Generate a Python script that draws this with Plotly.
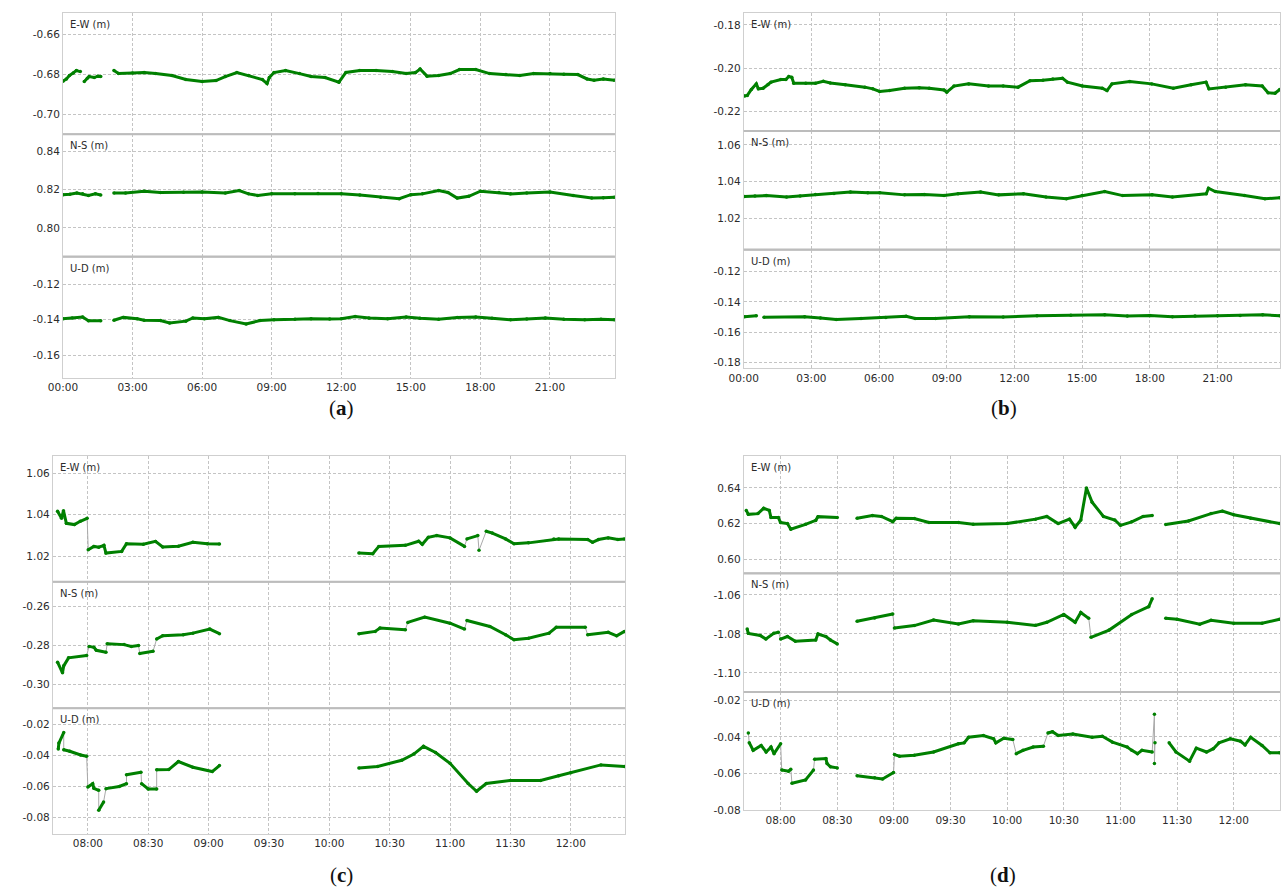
import plotly.graph_objects as go

G = None   # data gap: nothing drawn
J = "|"    # jump: thin grey connector only

# ---------------- tick labels ----------------
X_TICKS_DAY = [0, 3, 6, 9, 12, 15, 18, 21]
X_TICKS_DAY_TEXT = ["00:00", "03:00", "06:00", "09:00", "12:00", "15:00", "18:00", "21:00"]
X_TICKS_MORNING = [8.0, 8.5, 9.0, 9.5, 10.0, 10.5, 11.0, 11.5, 12.0]
X_TICKS_MORNING_TEXT = ["08:00", "08:30", "09:00", "09:30", "10:00", "10:30", "11:00", "11:30", "12:00"]

A_EW_TICKS = [-0.70, -0.68, -0.66]
A_NS_TICKS = [0.80, 0.82, 0.84]
A_UD_TICKS = [-0.16, -0.14, -0.12]
B_EW_TICKS = [-0.22, -0.20, -0.18]
B_NS_TICKS = [1.02, 1.04, 1.06]
B_UD_TICKS = [-0.18, -0.16, -0.14, -0.12]
C_EW_TICKS = [1.02, 1.04, 1.06]
C_NS_TICKS = [-0.30, -0.28, -0.26]
C_UD_TICKS = [-0.08, -0.06, -0.04, -0.02]
D_EW_TICKS = [0.60, 0.62, 0.64]
D_NS_TICKS = [-1.10, -1.08, -1.06]
D_UD_TICKS = [-0.08, -0.06, -0.04, -0.02]

COMPONENTS = ["E-W (m)", "N-S (m)", "U-D (m)"]
CAPTIONS = ["a", "b", "c", "d"]

# ---------------- series: (time in hours, metres) ----------------
A_EW = [(0.00, -0.6834), (0.15, -0.6822), (0.28, -0.6805), (0.45, -0.6792), (0.58, -0.6780), (0.75, -0.6785), G,
        (0.92, -0.6835), (1.05, -0.6818), (1.13, -0.6810), (1.35, -0.6815), (1.50, -0.6808), (1.63, -0.6810), G,
        (2.20, -0.6780), (2.40, -0.6795), (3.00, -0.6792), (3.50, -0.6790), (4.00, -0.6795), (4.70, -0.6805),
        (5.30, -0.6825), (6.00, -0.6835), (6.60, -0.6830), (7.00, -0.6810), (7.50, -0.6790), (8.00, -0.6805),
        (8.60, -0.6825), (8.80, -0.6845), (8.90, -0.6815), (9.10, -0.6790), (9.60, -0.6780), (10.20, -0.6795),
        (10.70, -0.6810), (11.30, -0.6815), (11.90, -0.6838), (12.20, -0.6789), (12.80, -0.6780), (13.50, -0.6780),
        (14.20, -0.6785), (14.80, -0.6795), (15.20, -0.6790), (15.40, -0.6772), (15.70, -0.6808), (16.20, -0.6805),
        (16.70, -0.6795), (17.10, -0.6775), (17.80, -0.6775), (18.40, -0.6795), (19.10, -0.6800), (19.70, -0.6805),
        (20.30, -0.6795), (21.00, -0.6795), (21.60, -0.6798), (22.20, -0.6800), (22.60, -0.6822), (22.90, -0.6828),
        (23.30, -0.6822), (23.78, -0.6828)]
A_NS = [(0.00, 0.8174), (0.30, 0.8176), (0.60, 0.8183), (0.85, 0.8178), (1.10, 0.8170), (1.40, 0.8178), (1.63, 0.8172), G,
        (2.20, 0.8183), (2.70, 0.8182), (3.50, 0.8192), (4.20, 0.8185), (5.20, 0.8186), (6.00, 0.8188), (7.00, 0.8183),
        (7.60, 0.8195), (8.00, 0.8178), (8.40, 0.8170), (9.00, 0.8178), (10.00, 0.8179), (11.00, 0.8180), (12.00, 0.8179),
        (12.80, 0.8172), (13.70, 0.8160), (14.50, 0.8153), (15.00, 0.8174), (15.50, 0.8178), (16.20, 0.8195), (16.60, 0.8185),
        (17.00, 0.8156), (17.50, 0.8165), (18.00, 0.8192), (18.80, 0.8185), (19.30, 0.8178), (20.00, 0.8182), (21.00, 0.8188),
        (22.00, 0.8170), (22.80, 0.8156), (23.30, 0.8158), (23.78, 0.8160)]
A_UD = [(0.00, -0.1394), (0.40, -0.1390), (0.85, -0.1385), (1.10, -0.1406), (1.63, -0.1406), G,
        (2.20, -0.1403), (2.60, -0.1387), (3.20, -0.1395), (3.50, -0.1403), (4.20, -0.1405), (4.60, -0.1418),
        (5.30, -0.1408), (5.60, -0.1390), (6.10, -0.1395), (6.70, -0.1387), (7.20, -0.1405), (7.90, -0.1424),
        (8.50, -0.1405), (9.10, -0.1400), (10.00, -0.1398), (10.70, -0.1394), (11.50, -0.1396), (12.00, -0.1394),
        (12.60, -0.1382), (13.20, -0.1390), (14.00, -0.1395), (14.80, -0.1385), (15.40, -0.1392), (16.20, -0.1398),
        (17.00, -0.1388), (17.80, -0.1385), (18.50, -0.1392), (19.30, -0.1400), (20.00, -0.1396), (20.80, -0.1390),
        (21.60, -0.1397), (22.50, -0.1400), (23.20, -0.1398), (23.78, -0.1400)]

B_EW = [(0.03, -0.2128), (0.16, -0.2125), (0.34, -0.2098), (0.56, -0.2072), (0.65, -0.2095), (0.86, -0.2092),
        (1.08, -0.2075), (1.21, -0.2064), (1.65, -0.2052), (1.87, -0.2052), (2.00, -0.2038), (2.13, -0.2042),
        (2.22, -0.2069), (2.75, -0.2069), (3.18, -0.2069), (3.53, -0.2060), (3.84, -0.2068), (4.50, -0.2076),
        (5.37, -0.2087), (5.72, -0.2095), (6.03, -0.2107), (6.47, -0.2102), (7.13, -0.2092), (7.78, -0.2090),
        (8.22, -0.2092), (8.88, -0.2100), (9.00, -0.2110), (9.32, -0.2082), (9.97, -0.2072), (10.85, -0.2082),
        (11.50, -0.2082), (12.16, -0.2087), (12.69, -0.2057), (13.26, -0.2055), (13.70, -0.2049), (14.13, -0.2046),
        (14.35, -0.2064), (15.01, -0.2082), (15.89, -0.2092), (16.10, -0.2103), (16.32, -0.2072), (17.11, -0.2061),
        (18.08, -0.2072), (19.04, -0.2092), (19.83, -0.2076), (20.49, -0.2064), (20.62, -0.2095), (21.36, -0.2087),
        (22.24, -0.2076), (22.98, -0.2082), (23.24, -0.2113), (23.55, -0.2115), (23.76, -0.2098)]
B_NS = [(0.03, 1.0319), (0.50, 1.0322), (1.00, 1.0324), (1.90, 1.0316), (2.50, 1.0322), (3.18, 1.0330), (4.00, 1.0335),
        (4.73, 1.0343), (5.50, 1.0340), (6.03, 1.0340), (7.13, 1.0328), (8.00, 1.0330), (8.88, 1.0324), (9.50, 1.0334),
        (10.50, 1.0343), (11.30, 1.0328), (12.40, 1.0334), (13.40, 1.0316), (14.30, 1.0307), (15.00, 1.0324),
        (16.00, 1.0346), (16.80, 1.0324), (18.10, 1.0328), (19.00, 1.0316), (20.50, 1.0334), (20.60, 1.0364),
        (20.90, 1.0346), (22.20, 1.0324), (23.10, 1.0307), (23.76, 1.0312)]
B_UD = [(0.03, -0.1499), (0.56, -0.1492), G,
        (0.90, -0.1502), (2.70, -0.1499), (3.40, -0.1506), (4.10, -0.1517), (5.20, -0.1510), (6.30, -0.1504),
        (7.20, -0.1495), (7.60, -0.1510), (8.50, -0.1510), (10.00, -0.1499), (11.50, -0.1500), (13.00, -0.1492),
        (14.50, -0.1488), (16.00, -0.1486), (17.00, -0.1494), (18.00, -0.1490), (19.00, -0.1498), (20.00, -0.1494),
        (21.00, -0.1492), (22.00, -0.1490), (23.00, -0.1486), (23.76, -0.1492)]

C_EW = [(7.749, 1.0416), (7.782, 1.0382), (7.798, 1.0419), (7.822, 1.0358), (7.888, 1.0352), (7.937, 1.0368), (7.994, 1.0382), J,
        (8.003, 1.0231), (8.050, 1.0247), (8.090, 1.0243), (8.133, 1.0252), (8.150, 1.0215), (8.280, 1.0223), (8.320, 1.0260),
        (8.460, 1.0257), (8.560, 1.0271), (8.620, 1.0244), (8.750, 1.0248), (8.870, 1.0267), (8.990, 1.0260), (9.090, 1.0259), G,
        (10.245, 1.0215), (10.360, 1.0212), (10.410, 1.0247), (10.630, 1.0252), (10.740, 1.0272), (10.770, 1.0257),
        (10.820, 1.0291), (10.890, 1.0299), (11.000, 1.0288), (11.120, 1.0247), J,
        (11.140, 1.0283), (11.230, 1.0299), J, (11.240, 1.0228), J,
        (11.300, 1.0320), (11.350, 1.0311), (11.460, 1.0283), (11.530, 1.0260), (11.650, 1.0264), (11.860, 1.0283),
        (11.900, 1.0283), (12.140, 1.0280), (12.180, 1.0267), (12.230, 1.0280), (12.310, 1.0288), (12.390, 1.0280),
        (12.445, 1.0283)]
C_NS = [(7.749, -0.2885), (7.790, -0.2940), (7.800, -0.2904), (7.840, -0.2863), (7.990, -0.2851), J,
        (8.010, -0.2804), (8.050, -0.2809), (8.070, -0.2824), (8.150, -0.2834), J,
        (8.160, -0.2790), (8.300, -0.2795), (8.360, -0.2804), (8.420, -0.2800), J,
        (8.430, -0.2841), (8.540, -0.2829), J,
        (8.570, -0.2766), (8.620, -0.2749), (8.790, -0.2744), (8.870, -0.2736), (9.010, -0.2715), (9.090, -0.2739), G,
        (10.245, -0.2739), (10.380, -0.2727), (10.420, -0.2710), (10.630, -0.2718), J,
        (10.650, -0.2681), (10.790, -0.2654), (11.000, -0.2685), (11.120, -0.2715), J,
        (11.140, -0.2671), (11.330, -0.2702), (11.460, -0.2744), (11.530, -0.2770), (11.650, -0.2762), (11.820, -0.2736),
        (11.880, -0.2706), (12.120, -0.2706), J,
        (12.140, -0.2744), (12.310, -0.2732), (12.380, -0.2750), (12.445, -0.2727)]
C_UD = [(7.755, -0.0357), (7.760, -0.0319), (7.800, -0.0251), J,
        (7.800, -0.0362), (7.850, -0.0372), (7.940, -0.0396), (7.990, -0.0404), J,
        (8.000, -0.0603), (8.040, -0.0581), (8.050, -0.0611), (8.090, -0.0624), J,
        (8.090, -0.0753), (8.130, -0.0699), J,
        (8.150, -0.0613), (8.260, -0.0599), (8.320, -0.0581), J,
        (8.320, -0.0524), (8.440, -0.0507), J,
        (8.445, -0.0581), (8.500, -0.0615), (8.570, -0.0615), J,
        (8.570, -0.0492), (8.670, -0.0490), (8.750, -0.0438), (8.870, -0.0475), (9.030, -0.0503), (9.090, -0.0464), G,
        (10.245, -0.0480), (10.400, -0.0470), (10.600, -0.0430), (10.700, -0.0390), (10.780, -0.0340), (10.880, -0.0380),
        (11.000, -0.0450), (11.150, -0.0580), (11.220, -0.0630), (11.300, -0.0580), (11.500, -0.0560), (11.750, -0.0560),
        (11.900, -0.0530), (12.000, -0.0510), (12.250, -0.0460), (12.445, -0.0470)]

D_EW = [(7.697, 0.6274), (7.715, 0.6252), (7.800, 0.6256), (7.850, 0.6286), (7.900, 0.6274), (7.915, 0.6234), (7.980, 0.6234),
        (8.000, 0.6206), (8.060, 0.6200), (8.090, 0.6168), (8.220, 0.6196), (8.310, 0.6218), (8.330, 0.6239), (8.500, 0.6234), G,
        (8.675, 0.6230), (8.810, 0.6246), (8.890, 0.6240), (8.990, 0.6211), (9.020, 0.6230), (9.180, 0.6228), (9.310, 0.6206),
        (9.570, 0.6206), (9.700, 0.6196), (10.000, 0.6200), (10.250, 0.6225), (10.350, 0.6240), (10.450, 0.6200),
        (10.550, 0.6225), (10.600, 0.6180), (10.650, 0.6220), (10.700, 0.6400), (10.750, 0.6320), (10.850, 0.6240),
        (10.950, 0.6220), (11.000, 0.6190), (11.100, 0.6210), (11.200, 0.6240), (11.280, 0.6245), G,
        (11.400, 0.6195), (11.600, 0.6215), (11.800, 0.6256), (11.900, 0.6270), (12.000, 0.6250), (12.150, 0.6230),
        (12.405, 0.6200)]
D_NS = [(7.705, -1.0775), (7.715, -1.0797), (7.820, -1.0808), (7.870, -1.0826), (7.940, -1.0797), (7.980, -1.0791), J,
        (8.000, -1.0826), (8.060, -1.0813), (8.130, -1.0837), (8.310, -1.0831), (8.330, -1.0800), (8.400, -1.0813),
        (8.440, -1.0831), (8.500, -1.0851), G,
        (8.675, -1.0735), (8.830, -1.0718), (8.990, -1.0698), J,
        (9.005, -1.0769), (9.180, -1.0757), (9.350, -1.0729), (9.570, -1.0749), (9.700, -1.0732), (10.000, -1.0740),
        (10.250, -1.0756), (10.350, -1.0740), (10.500, -1.0700), (10.600, -1.0740), (10.650, -1.0690), (10.720, -1.0720), J,
        (10.740, -1.0817), (10.900, -1.0780), (11.100, -1.0700), (11.250, -1.0660), (11.280, -1.0620), G,
        (11.400, -1.0720), (11.500, -1.0725), (11.700, -1.0750), (11.800, -1.0730), (12.000, -1.0745), (12.250, -1.0745),
        (12.405, -1.0725)]
D_UD = [(7.715, -0.0379), J,
        (7.723, -0.0432), (7.758, -0.0474), (7.828, -0.0447), (7.872, -0.0483), (7.915, -0.0456), (7.942, -0.0492), (8.000, -0.0438), J,
        (8.010, -0.0582), (8.070, -0.0588), (8.090, -0.0578), J,
        (8.100, -0.0654), (8.220, -0.0636), (8.290, -0.0582), J,
        (8.300, -0.0523), (8.400, -0.0519), (8.410, -0.0546), (8.440, -0.0564), (8.500, -0.0570), G,
        (8.675, -0.0613), (8.830, -0.0624), (8.900, -0.0631), (8.997, -0.0595), J,
        (9.005, -0.0497), (9.050, -0.0506), (9.180, -0.0501), (9.350, -0.0483), (9.570, -0.0438), (9.620, -0.0433),
        (9.660, -0.0402), (9.790, -0.0393), (9.880, -0.0411), (9.900, -0.0433), (9.970, -0.0408), (10.050, -0.0415), J,
        (10.080, -0.0492), (10.140, -0.0474), (10.230, -0.0456), (10.320, -0.0451), J,
        (10.360, -0.0379), (10.400, -0.0372), (10.450, -0.0393), (10.580, -0.0384), (10.750, -0.0402), (10.840, -0.0397),
        (10.930, -0.0429), (11.060, -0.0456), (11.100, -0.0474), (11.150, -0.0492), (11.190, -0.0474), (11.280, -0.0483), J,
        (11.300, -0.0276), J, (11.300, -0.0546), J, (11.305, -0.0433), G,
        (11.430, -0.0433), (11.490, -0.0483), (11.610, -0.0533), (11.670, -0.0462), (11.760, -0.0483), (11.820, -0.0465),
        (11.870, -0.0433), (11.970, -0.0411), (12.060, -0.0424), (12.100, -0.0444), (12.150, -0.0402), (12.250, -0.0447),
        (12.320, -0.0487), (12.405, -0.0487)]

# ---------------- layout geometry (pixels) ----------------
W, H = 1284, 893
PANELS = [
    dict(x0=48.5, x1=607, ys=[13, 135, 258, 380], xr=[0, 23.8],
         xt=X_TICKS_DAY, xtt=X_TICKS_DAY_TEXT,
         series=[A_EW, A_NS, A_UD], ticks=[A_EW_TICKS, A_NS_TICKS, A_UD_TICKS],
         yr=[[-0.710, -0.649], [0.785, 0.849], [-0.1727, -0.1045]], cap=(330, 410)),
    dict(x0=737.3, x1=1280, ys=[13, 131.7, 251, 370], xr=[0, 23.77],
         xt=X_TICKS_DAY, xtt=X_TICKS_DAY_TEXT,
         series=[B_EW, B_NS, B_UD], ticks=[B_EW_TICKS, B_NS_TICKS, B_UD_TICKS],
         yr=[[-0.2289, -0.1745], [1.003, 1.0676], [-0.1838, -0.1053]], cap=(1001, 410)),
    dict(x0=38.3, x1=617.3, ys=[459, 585, 712.3, 838.3], xr=[7.710, 12.45],
         xt=X_TICKS_MORNING, xtt=X_TICKS_MORNING_TEXT,
         series=[C_EW, C_NS, C_UD], ticks=[C_EW_TICKS, C_NS_TICKS, C_UD_TICKS],
         yr=[[1.0077, 1.068], [-0.3122, -0.2472], [-0.0903, -0.0095]], cap=(330, 880)),
    dict(x0=737.3, x1=1280, ys=[458.3, 576.7, 696, 815], xr=[7.674, 12.409],
         xt=X_TICKS_MORNING, xtt=X_TICKS_MORNING_TEXT,
         series=[D_EW, D_NS, D_UD], ticks=[D_EW_TICKS, D_NS_TICKS, D_UD_TICKS],
         yr=[[0.592, 0.6581], [-1.1098, -1.049], [-0.0803, -0.0155]], cap=(1000, 880)),
]

GREEN = "#008000"
CONNECT = "#a9a9a9"
GRID = "#c4c4c4"
FRAME = "#cfcfcf"
SEP = "#bcbcbc"
TXT = "#2b2b2b"
FONT = "DejaVu Sans"


def px_x(p):
    return p / W


def px_y(p):
    return 1 - p / H


def split(series):
    gx, gy, cx, cy = [], [], [], []
    for item in series:
        if item is None:
            gx.append(None); gy.append(None); cx.append(None); cy.append(None)
        elif item == J:
            gx.append(None); gy.append(None)
        else:
            t, v = item
            gx.append(t); gy.append(v); cx.append(t); cy.append(v)
    return gx, gy, cx, cy


fig = go.Figure()
layout = dict(
    width=W, height=H, margin=dict(l=0, r=0, t=0, b=0),
    paper_bgcolor="white", plot_bgcolor="white", showlegend=False,
    font=dict(family=FONT, size=10, color=TXT),
)
annotations = []
shapes = []

k = 0
for p in PANELS:
    for r in range(3):
        k += 1
        top, bot = p["ys"][r], p["ys"][r + 1]
        xa, ya = f"x{k}", f"y{k}"
        gx, gy, cx, cy = split(p["series"][r])
        fig.add_trace(go.Scatter(x=cx, y=cy, xaxis=xa, yaxis=ya, mode="lines",
                                 line=dict(color=CONNECT, width=1), hoverinfo="skip"))
        fig.add_trace(go.Scatter(x=gx, y=gy, xaxis=xa, yaxis=ya, mode="lines+markers",
                                 line=dict(color=GREEN, width=3),
                                 marker=dict(color=GREEN, size=3.5)))
        bottom_row = (r == 2)
        layout[f"xaxis{k}"] = dict(
            domain=[px_x(p["x0"]), px_x(p["x1"])], anchor=ya, range=p["xr"],
            tickvals=p["xt"], ticktext=p["xtt"], showticklabels=bottom_row,
            showgrid=True, gridcolor=GRID, griddash="3px,2px", gridwidth=1,
            zeroline=False, showline=True, mirror=True, linecolor=FRAME, linewidth=1,
            ticks="", tickfont=dict(family=FONT, size=10.5, color=TXT),
        )
        tv = p["ticks"][r]
        layout[f"yaxis{k}"] = dict(
            domain=[px_y(bot), px_y(top)], anchor=xa, range=p["yr"][r],
            tickvals=tv, ticktext=[f"{v:.2f}" for v in tv],
            showgrid=True, gridcolor=GRID, griddash="3px,2px", gridwidth=1,
            zeroline=False, showline=True, mirror=True, linecolor=FRAME, linewidth=1,
            ticks="", tickfont=dict(family=FONT, size=10.5, color=TXT),
        )
        annotations.append(dict(
            text=COMPONENTS[r], xref="paper", yref="paper",
            x=px_x(p["x0"] + 5), y=px_y(top + 4), xanchor="left", yanchor="top",
            showarrow=False, font=dict(family=FONT, size=10, color=TXT),
        ))
        if r > 0:
            shapes.append(dict(type="line", xref="paper", yref="paper",
                               x0=px_x(p["x0"]), x1=px_x(p["x1"]), y0=px_y(top), y1=px_y(top),
                               line=dict(color=SEP, width=2)))

for p, c in zip(PANELS, CAPTIONS):
    cx_, cy_ = p["cap"]
    annotations.append(dict(
        text=f"(<b>{c}</b>)", xref="paper", yref="paper", x=px_x(cx_), y=px_y(cy_),
        xanchor="center", yanchor="middle", showarrow=False,
        font=dict(family="Liberation Serif", size=21, color="#111111"),
    ))

layout["annotations"] = annotations
layout["shapes"] = shapes
fig.update_layout(**layout)
fig.write_html("out.html")
